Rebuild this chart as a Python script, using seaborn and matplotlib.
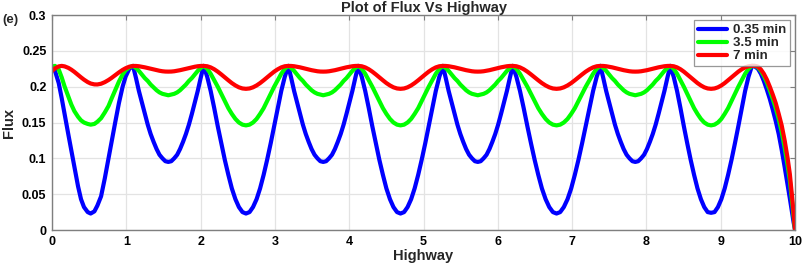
import matplotlib
matplotlib.use("Agg")
import matplotlib.pyplot as plt
import pandas as pd
import seaborn as sns

# values (one line per half wave)
highway = [
    0.00, 0.04, 0.09, 0.13, 0.17, 0.22, 0.26, 0.30, 0.35, 0.39, 0.43, 0.48, 0.52,
    0.57, 0.61, 0.66, 0.71, 0.76, 0.80, 0.85, 0.90, 0.95, 0.99, 1.04, 1.09,
    1.130, 1.169, 1.209, 1.248, 1.288, 1.327, 1.367, 1.407, 1.446, 1.486, 1.525, 1.565,
    1.605, 1.644, 1.684, 1.723, 1.763, 1.802, 1.842, 1.882, 1.921, 1.961, 2.000, 2.040,
    2.088, 2.135, 2.183, 2.230, 2.278, 2.325, 2.373, 2.420, 2.468, 2.515, 2.563, 2.610,
    2.658, 2.705, 2.753, 2.800, 2.848, 2.895, 2.943, 2.990, 3.038, 3.085, 3.133, 3.180,
    3.219, 3.258, 3.298, 3.337, 3.376, 3.415, 3.454, 3.493, 3.533, 3.572, 3.611, 3.650,
    3.689, 3.728, 3.768, 3.807, 3.846, 3.885, 3.924, 3.963, 4.003, 4.042, 4.081, 4.120,
    4.168, 4.215, 4.263, 4.310, 4.358, 4.405, 4.453, 4.500, 4.548, 4.595, 4.643, 4.690,
    4.738, 4.785, 4.833, 4.880, 4.928, 4.975, 5.023, 5.070, 5.118, 5.165, 5.213, 5.260,
    5.299, 5.338, 5.378, 5.417, 5.456, 5.495, 5.534, 5.573, 5.613, 5.652, 5.691, 5.730,
    5.769, 5.808, 5.848, 5.887, 5.926, 5.965, 6.004, 6.043, 6.083, 6.122, 6.161, 6.200,
    6.249, 6.298, 6.348, 6.397, 6.446, 6.495, 6.544, 6.593, 6.643, 6.692, 6.741, 6.790,
    6.839, 6.888, 6.938, 6.987, 7.036, 7.085, 7.134, 7.183, 7.233, 7.282, 7.331, 7.380,
    7.419, 7.458, 7.498, 7.537, 7.576, 7.615, 7.654, 7.693, 7.733, 7.772, 7.811, 7.850,
    7.889, 7.928, 7.968, 8.007, 8.046, 8.085, 8.124, 8.163, 8.203, 8.242, 8.281, 8.320,
    8.366, 8.412, 8.458, 8.503, 8.549, 8.595, 8.641, 8.687, 8.733, 8.778, 8.824, 8.870,
    8.916, 8.962, 9.008, 9.053, 9.099, 9.145, 9.191, 9.237, 9.283, 9.328, 9.374, 9.420,
    9.46, 9.50, 9.54, 9.58, 9.62, 9.66, 9.70, 9.74,
    9.78, 9.82, 9.86, 9.90, 9.93, 9.96, 9.98, 10.00,
]

flux_035 = [
    0.228, 0.222, 0.205, 0.184, 0.161, 0.133, 0.111, 0.089, 0.061, 0.043, 0.032, 0.025, 0.023,
    0.026, 0.034, 0.047, 0.072, 0.100, 0.122, 0.150, 0.177, 0.200, 0.214, 0.225, 0.229,
    0.212, 0.194, 0.178, 0.162, 0.147, 0.134, 0.123, 0.113, 0.105, 0.100, 0.096, 0.095,
    0.096, 0.100, 0.105, 0.113, 0.123, 0.134, 0.147, 0.162, 0.178, 0.194, 0.212, 0.229,
    0.214, 0.194, 0.170, 0.145, 0.121, 0.098, 0.077, 0.058, 0.043, 0.032, 0.025, 0.023,
    0.025, 0.032, 0.043, 0.058, 0.077, 0.098, 0.121, 0.145, 0.170, 0.194, 0.214, 0.229,
    0.212, 0.194, 0.178, 0.162, 0.147, 0.134, 0.123, 0.113, 0.105, 0.100, 0.096, 0.095,
    0.096, 0.100, 0.105, 0.113, 0.123, 0.134, 0.147, 0.162, 0.178, 0.194, 0.212, 0.229,
    0.214, 0.194, 0.170, 0.145, 0.121, 0.098, 0.077, 0.058, 0.043, 0.032, 0.025, 0.023,
    0.025, 0.032, 0.043, 0.058, 0.077, 0.098, 0.121, 0.145, 0.170, 0.194, 0.214, 0.229,
    0.212, 0.194, 0.178, 0.162, 0.147, 0.134, 0.123, 0.113, 0.105, 0.100, 0.096, 0.095,
    0.096, 0.100, 0.105, 0.113, 0.123, 0.134, 0.147, 0.162, 0.178, 0.194, 0.212, 0.229,
    0.214, 0.194, 0.170, 0.145, 0.121, 0.098, 0.077, 0.058, 0.043, 0.032, 0.025, 0.023,
    0.025, 0.032, 0.043, 0.058, 0.077, 0.098, 0.121, 0.145, 0.170, 0.194, 0.214, 0.229,
    0.212, 0.194, 0.178, 0.162, 0.147, 0.134, 0.123, 0.113, 0.105, 0.100, 0.096, 0.095,
    0.096, 0.100, 0.105, 0.113, 0.123, 0.134, 0.147, 0.162, 0.178, 0.194, 0.212, 0.229,
    0.214, 0.194, 0.170, 0.145, 0.121, 0.098, 0.077, 0.058, 0.043, 0.032, 0.025, 0.024,
    0.025, 0.032, 0.043, 0.058, 0.077, 0.098, 0.121, 0.145, 0.170, 0.194, 0.214, 0.229,
    0.228, 0.225, 0.218, 0.208, 0.196, 0.183, 0.168, 0.152,
    0.134, 0.112, 0.088, 0.063, 0.044, 0.024, 0.011, 0.000,
]

flux_35 = [
    0.228, 0.229, 0.224, 0.213, 0.200, 0.186, 0.175, 0.166, 0.158, 0.153, 0.150, 0.148, 0.147,
    0.148, 0.151, 0.156, 0.164, 0.173, 0.183, 0.195, 0.207, 0.217, 0.223, 0.227, 0.229,
    0.226, 0.222, 0.217, 0.212, 0.208, 0.203, 0.199, 0.195, 0.192, 0.190, 0.189, 0.188,
    0.189, 0.190, 0.192, 0.195, 0.199, 0.203, 0.208, 0.212, 0.217, 0.222, 0.226, 0.229,
    0.225, 0.218, 0.209, 0.200, 0.190, 0.180, 0.170, 0.162, 0.155, 0.150, 0.147, 0.146,
    0.147, 0.150, 0.155, 0.162, 0.170, 0.180, 0.190, 0.200, 0.209, 0.218, 0.225, 0.229,
    0.226, 0.222, 0.217, 0.212, 0.208, 0.203, 0.199, 0.195, 0.192, 0.190, 0.189, 0.188,
    0.189, 0.190, 0.192, 0.195, 0.199, 0.203, 0.208, 0.212, 0.217, 0.222, 0.226, 0.229,
    0.225, 0.218, 0.209, 0.200, 0.190, 0.180, 0.170, 0.162, 0.155, 0.150, 0.147, 0.146,
    0.147, 0.150, 0.155, 0.162, 0.170, 0.180, 0.190, 0.200, 0.209, 0.218, 0.225, 0.229,
    0.226, 0.222, 0.217, 0.212, 0.208, 0.203, 0.199, 0.195, 0.192, 0.190, 0.189, 0.188,
    0.189, 0.190, 0.192, 0.195, 0.199, 0.203, 0.208, 0.212, 0.217, 0.222, 0.226, 0.229,
    0.225, 0.218, 0.209, 0.200, 0.190, 0.180, 0.170, 0.162, 0.155, 0.150, 0.147, 0.146,
    0.147, 0.150, 0.155, 0.162, 0.170, 0.180, 0.190, 0.200, 0.209, 0.218, 0.225, 0.229,
    0.226, 0.222, 0.217, 0.212, 0.208, 0.203, 0.199, 0.195, 0.192, 0.190, 0.189, 0.188,
    0.189, 0.190, 0.192, 0.195, 0.199, 0.203, 0.208, 0.212, 0.217, 0.222, 0.226, 0.229,
    0.225, 0.218, 0.209, 0.200, 0.190, 0.180, 0.170, 0.162, 0.155, 0.150, 0.147, 0.146,
    0.147, 0.150, 0.155, 0.162, 0.170, 0.180, 0.190, 0.200, 0.209, 0.218, 0.225, 0.229,
    0.229, 0.227, 0.222, 0.215, 0.206, 0.195, 0.183, 0.170,
    0.155, 0.137, 0.115, 0.090, 0.069, 0.040, 0.021, 0.000,
]

flux_7 = [
    0.2220, 0.2255, 0.2283, 0.2290, 0.2283, 0.2262, 0.2237, 0.2207, 0.2164, 0.2130, 0.2098, 0.2064, 0.2044,
    0.2032, 0.2031, 0.2041, 0.2063, 0.2093, 0.2121, 0.2160, 0.2199, 0.2234, 0.2257, 0.2279, 0.2289,
    0.2289, 0.2285, 0.2278, 0.2270, 0.2260, 0.2250, 0.2240, 0.2230, 0.2222, 0.2215, 0.2211, 0.2210,
    0.2211, 0.2215, 0.2222, 0.2230, 0.2240, 0.2250, 0.2260, 0.2270, 0.2278, 0.2285, 0.2289, 0.2290,
    0.2285, 0.2269, 0.2243, 0.2210, 0.2171, 0.2130, 0.2089, 0.2050, 0.2017, 0.1991, 0.1975, 0.1970,
    0.1975, 0.1991, 0.2017, 0.2050, 0.2089, 0.2130, 0.2171, 0.2210, 0.2243, 0.2269, 0.2285, 0.2290,
    0.2289, 0.2285, 0.2278, 0.2270, 0.2260, 0.2250, 0.2240, 0.2230, 0.2222, 0.2215, 0.2211, 0.2210,
    0.2211, 0.2215, 0.2222, 0.2230, 0.2240, 0.2250, 0.2260, 0.2270, 0.2278, 0.2285, 0.2289, 0.2290,
    0.2285, 0.2269, 0.2243, 0.2210, 0.2171, 0.2130, 0.2089, 0.2050, 0.2017, 0.1991, 0.1975, 0.1970,
    0.1975, 0.1991, 0.2017, 0.2050, 0.2089, 0.2130, 0.2171, 0.2210, 0.2243, 0.2269, 0.2285, 0.2290,
    0.2289, 0.2285, 0.2278, 0.2270, 0.2260, 0.2250, 0.2240, 0.2230, 0.2222, 0.2215, 0.2211, 0.2210,
    0.2211, 0.2215, 0.2222, 0.2230, 0.2240, 0.2250, 0.2260, 0.2270, 0.2278, 0.2285, 0.2289, 0.2290,
    0.2285, 0.2269, 0.2243, 0.2210, 0.2171, 0.2130, 0.2089, 0.2050, 0.2017, 0.1991, 0.1975, 0.1970,
    0.1975, 0.1991, 0.2017, 0.2050, 0.2089, 0.2130, 0.2171, 0.2210, 0.2243, 0.2269, 0.2285, 0.2290,
    0.2289, 0.2285, 0.2278, 0.2270, 0.2260, 0.2250, 0.2240, 0.2230, 0.2222, 0.2215, 0.2211, 0.2210,
    0.2211, 0.2215, 0.2222, 0.2230, 0.2240, 0.2250, 0.2260, 0.2270, 0.2278, 0.2285, 0.2289, 0.2290,
    0.2285, 0.2269, 0.2243, 0.2210, 0.2171, 0.2130, 0.2089, 0.2050, 0.2017, 0.1991, 0.1975, 0.1970,
    0.1975, 0.1991, 0.2017, 0.2050, 0.2089, 0.2130, 0.2171, 0.2210, 0.2243, 0.2269, 0.2285, 0.2290,
    0.229, 0.228, 0.224, 0.218, 0.210, 0.200, 0.189, 0.177,
    0.162, 0.146, 0.125, 0.100, 0.078, 0.047, 0.025, 0.000,
]

series_names = ["0.35 min", "3.5 min", "7 min"]
colors = ["#0000ff", "#00ff00", "#ff0000"]
x_ticks = [0, 1, 2, 3, 4, 5, 6, 7, 8, 9, 10]
y_ticks = [0, 0.05, 0.1, 0.15, 0.2, 0.25, 0.3]
y_tick_labels = ["0", "0.05", "0.1", "0.15", "0.2", "0.25", "0.3"]

# long table for seaborn
frames = []
for name, vals in zip(series_names, [flux_035, flux_35, flux_7]):
    frames.append(pd.DataFrame({"Highway": highway, "Flux": vals, "time": name}))
df = pd.concat(frames, ignore_index=True)

sns.set_theme(style="white")
plt.rcParams["font.family"] = ["Liberation Sans", "DejaVu Sans"]
plt.rcParams["font.weight"] = "bold"

fig = plt.figure(figsize=(8.03, 2.66), dpi=100)
ax = fig.add_axes([0.0648, 0.1353, 0.9253, 0.8083])

sns.lineplot(
    data=df, x="Highway", y="Flux", hue="time",
    hue_order=series_names, palette=dict(zip(series_names, colors)),
    linewidth=3, ax=ax, sort=False,
    solid_joinstyle="round", solid_capstyle="round",
)

ax.set_xlim(0, 10)
ax.set_ylim(0, 0.3)
ax.set_xticks(x_ticks)
ax.set_yticks(y_ticks)
ax.set_yticklabels(y_tick_labels)
ax.grid(True, color="#e3e3e3", linewidth=0.9)
ax.set_axisbelow(True)
for sp in ax.spines.values():
    sp.set_color("#7f7f7f")
    sp.set_linewidth(1.0)
ax.tick_params(direction="in", top=True, right=True, length=3.5, width=0.8,
               color="#7f7f7f", labelsize=9, labelcolor="black", pad=4)
for lab in ax.get_xticklabels() + ax.get_yticklabels():
    lab.set_fontweight("bold")

ax.set_title("Plot of Flux Vs Highway", fontsize=10.5, fontweight="bold", pad=2)
ax.set_xlabel("Highway", fontsize=10.5, fontweight="bold", labelpad=1)
ax.set_ylabel("Flux", fontsize=10.5, fontweight="bold", labelpad=4)
fig.text(0.003, 0.912, "(e)", fontsize=9.5, fontweight="bold")

handles, labels = ax.get_legend_handles_labels()
leg = ax.legend(handles, labels, loc="upper right",
                prop={"weight": "bold", "size": 9.5},
                frameon=True, fancybox=False, edgecolor="#7f7f7f",
                handlelength=2.2, handletextpad=0.4, labelspacing=0.05,
                borderpad=0.3, borderaxespad=0.4)
leg.get_frame().set_linewidth(0.9)
for line in leg.get_lines():
    line.set_linewidth(3)

fig.savefig("out.png", dpi=100)
